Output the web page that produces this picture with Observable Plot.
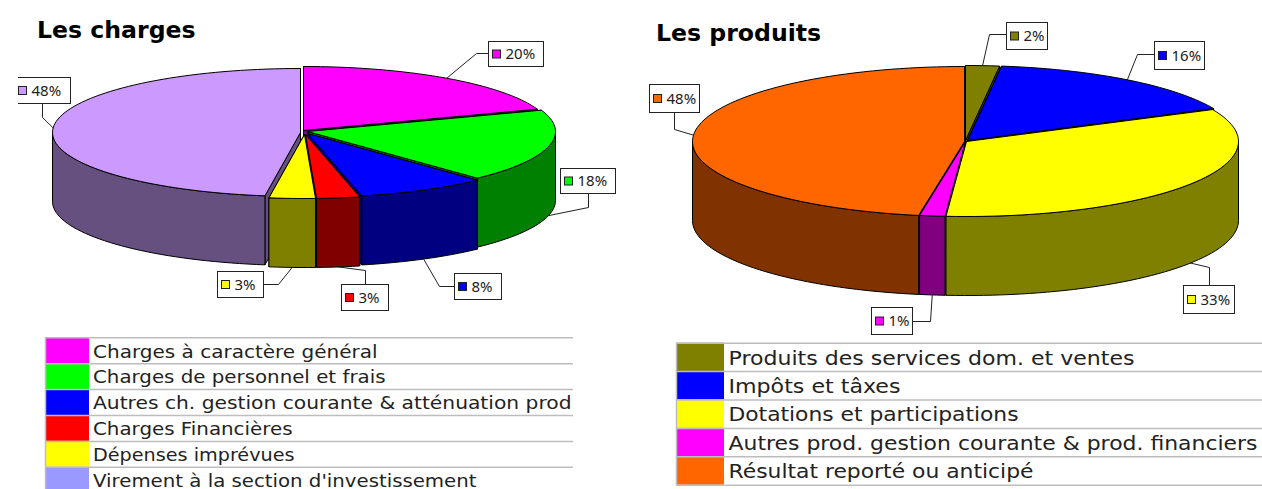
<!DOCTYPE html>
<html>
<head>
<meta charset="utf-8">
<script src="https://cdn.jsdelivr.net/npm/d3@7"></script>
<script src="https://cdn.jsdelivr.net/npm/@observablehq/plot@0.6"></script>
<style>
html,body{margin:0;padding:0;background:#fff;overflow:hidden}
</style>
</head>
<body>
<div id="chart"></div>
<script>
// ---- data ----
const chargeNames = ["Charges à caractère général","Charges de personnel et frais","Autres ch. gestion courante & atténuation prod","Charges Financières","Dépenses imprévues","Virement à la section d'investissement"];
const chargeShares = [19.6,18.4,8.49,2.8,3,47.71];
const chargeLabels = ["20%","18%","8%","3%","3%","48%"];
const produitNames = ["Produits des services dom. et ventes","Impôts et tâxes","Dotations et participations","Autres prod. gestion courante & prod. financiers","Résultat reporté ou anticipé"];
const produitShares = [2,16,33.2,1.5,47.3];
const produitLabels = ["2%","16%","33%","1%","48%"];

// ---- colours ----
const chargeTop = ["#ff00ff","#00ff00","#0000ff","#ff0000","#ffff00","#cc99ff"];
const chargeSide = ["#800080","#008000","#000080","#800000","#808000","#665080"];
const chargeKey = ["#ff00ff","#00ff00","#0000ff","#ff0000","#ffff00","#9999ff"];
const produitTop = ["#808000","#0000ff","#ffff00","#ff00ff","#ff6600"];
const produitSide = ["#404000","#000080","#808000","#800080","#803300"];

// ---- layout ----
const W = 1262, H = 489;
const leftPie = {cx:303, cy:131, rx:248, ry:64, depth:69,
  shift:[[0,-1],[4,0],[4,2],[2,3],[1,3],[-3,1]],
  order:[0,5,1,2,3,4]};
const rightPie = {cx:965, cy:141, rx:272, ry:75, depth:79,
  shift:[[0,-1],[2,-1],[1,0],[0,0],[-1,0]],
  order:[0,1,4,2,3]};
// label box [x1,y1,x2,y2], then the leader's bend and its end at the box
const leftBoxes = [
  {box:[488,41,543,66], bend:[476,53], end:[488,53]},
  {box:[560,168,615,193], bend:[588,207], end:[588,193]},
  {box:[454,273,501,299], bend:[439,286], end:[454,286]},
  {box:[341,284,388,310], bend:[365,270], end:[365,284]},
  {box:[217,271,263,297], bend:[278,284], end:[263,284]},
  {box:[14,77,70,103], bend:[42,117], end:[42,103], cut:18}
];
const rightBoxes = [
  {box:[1006,22,1047,49], bend:[989,34], end:[1006,34]},
  {box:[1154,41,1204,69], bend:[1137,54], end:[1154,54]},
  {box:[1183,285,1234,313], bend:[1209,267], end:[1209,285]},
  {box:[871,307,912,334], bend:[930,321], end:[912,321]},
  {box:[649,84,699,112], bend:[674,129], end:[674,112]}
];
const leftKey = {x0:46, x1:89, textX:92.5, right:573, top:337.3, row:25.9, size:18, textDy:14,
  ends:[377,385,571,292,294,476]};
const rightKey = {x0:677, x1:724, textX:728, right:1262, top:342.7, row:28.4, size:20, textDy:15,
  ends:[1134,900,1018,1257,1033]};

// ---- geometry from the shares ----
const rad = d => d * Math.PI / 180;
function pie3d(p, shares, top, side) {
  const total = d3.sum(shares);
  let acc = 0;
  const slices = shares.map((v,i) => {
    const a0 = acc/total*360; acc += v; const a1 = acc/total*360;
    return {i, a0, a1, mid:(a0+a1)/2, dx:p.shift[i][0], dy:p.shift[i][1], top:top[i], side:side[i]};
  });
  const rim = (s,a,down=0) => ({x:p.cx+s.dx+p.rx*Math.sin(rad(a)), y:p.cy+s.dy-p.ry*Math.cos(rad(a))+down});
  const apex = (s,down=0) => ({x:p.cx+s.dx, y:p.cy+s.dy+down});
  const arc = (s,a0,a1,down=0) => {
    const n = Math.max(2,Math.ceil((a1-a0)/2)), out=[];
    for (let k=0;k<=n;k++) out.push(rim(s,a0+(a1-a0)*k/n,down));
    return out;
  };
  const poly = (pts,fill) => Plot.line([...pts,pts[0]],{x:"x",y:"y",fill,stroke:"#000",strokeWidth:1,strokeLinejoin:"round"});
  const walls = [], sides = [], tops = [];
  for (const idx of p.order) {
    const s = slices[idx];
    for (const a of [s.a0,s.a1]) walls.push(poly([apex(s),rim(s,a),rim(s,a,p.depth),apex(s,p.depth)],s.side));
    const f0 = Math.max(s.a0,90), f1 = Math.min(s.a1,270);
    if (f1>f0) sides.push(poly([...arc(s,f0,f1),...arc(s,f0,f1,p.depth).reverse()],s.side));
    tops.push(poly([apex(s),...arc(s,s.a0,s.a1)],s.top));
  }
  const anchors = slices.map(s => {
    const front = s.mid>90 && s.mid<270;
    return rim(s,s.mid,front?p.depth:0);
  });
  return {marks:[...walls,...sides,...tops], anchors};
}

function callouts(boxes, anchors, labels, colors) {
  const marks = [];
  boxes.forEach((b,i) => {
    marks.push(Plot.line([anchors[i],{x:b.bend[0],y:b.bend[1]},{x:b.end[0],y:b.end[1]}],{x:"x",y:"y",stroke:"#222",strokeWidth:1}));
  });
  marks.push(Plot.rect(boxes,{x1:b=>b.box[0]+.5,y1:b=>b.box[1]+.5,x2:b=>b.box[2]+.5,y2:b=>b.box[3]+.5,fill:"#fff",stroke:"#222",strokeWidth:1}));
  const cut = boxes.filter(b=>b.cut);
  marks.push(Plot.rect(cut,{x1:b=>b.box[0]-1,x2:b=>b.cut,y1:b=>b.box[1]-1,y2:b=>b.box[3]+2,fill:"#fff"}));
  const midY = b => (b.box[1]+b.box[3])/2;
  marks.push(Plot.rect(boxes,{x1:b=>b.box[0]+4.5,x2:b=>b.box[0]+12.5,y1:b=>midY(b)-3.5,y2:b=>midY(b)+4.5,fill:(b,i)=>colors[i],stroke:"#222",strokeWidth:1}));
  marks.push(Plot.text(labels,{x:(d,i)=>boxes[i].box[0]+17,y:(d,i)=>midY(boxes[i])+.5,text:d=>d,textAnchor:"start",fontSize:15,fontFamily:"Noto Sans",fill:"#222"}));
  return marks;
}

function keyTable(k, names, colors) {
  const rows = names.map((name,i)=>({name,i,color:colors[i]}));
  const lines = d3.range(names.length+1);
  return [
    Plot.rect(rows,{x1:k.x0,x2:k.x1,y1:d=>k.top+d.i*k.row,y2:d=>k.top+(d.i+1)*k.row,fill:d=>d.color}),
    Plot.ruleY(lines,{y:i=>k.top+i*k.row,x1:k.x0-1,x2:k.right,stroke:"#bdbdbd",strokeWidth:1.5}),
    Plot.ruleX([0],{x:k.x0-1,y1:k.top,y2:k.top+names.length*k.row,stroke:"#bdbdbd",strokeWidth:1.5}),
    Plot.text(rows,{x:k.textX,y:d=>k.top+d.i*k.row+k.textDy,text:"name",textAnchor:"start",fontSize:k.size,fontFamily:"DejaVu Sans",fill:"#222"})
  ];
}

const L = pie3d(leftPie, chargeShares, chargeTop, chargeSide);
const R = pie3d(rightPie, produitShares, produitTop, produitSide);

const plot = Plot.plot({
  width:W, height:H, margin:0,
  x:{type:"linear",domain:[0,W],range:[0,W],axis:null},
  y:{type:"linear",domain:[0,H],range:[0,H],axis:null},
  style:{background:"#fff"},
  marks:[
    Plot.text(["Les charges"],{x:36.5,y:30,text:d=>d,textAnchor:"start",fontSize:23.6,fontWeight:"bold",fontFamily:"DejaVu Sans",fill:"#000"}),
    Plot.text(["Les produits"],{x:655.5,y:33,text:d=>d,textAnchor:"start",fontSize:23.6,fontWeight:"bold",fontFamily:"DejaVu Sans",fill:"#000"}),
    ...L.marks, ...R.marks,
    ...callouts(leftBoxes,L.anchors,chargeLabels,chargeTop),
    ...callouts(rightBoxes,R.anchors,produitLabels,produitTop),
    ...keyTable(leftKey,chargeNames,chargeKey),
    ...keyTable(rightKey,produitNames,produitTop)
  ]
});
document.getElementById("chart").appendChild(plot);
// stretch the key's labels to the widths measured on the picture
for (const k of [[leftKey,chargeNames],[rightKey,produitNames]]) {
  const [key,names] = k;
  plot.querySelectorAll("text").forEach(t => {
    const i = names.indexOf(t.textContent);
    if (i >= 0) { t.setAttribute("textLength",key.ends[i]-key.textX); t.setAttribute("lengthAdjust","spacingAndGlyphs"); }
  });
}
</script>
</body>
</html>
